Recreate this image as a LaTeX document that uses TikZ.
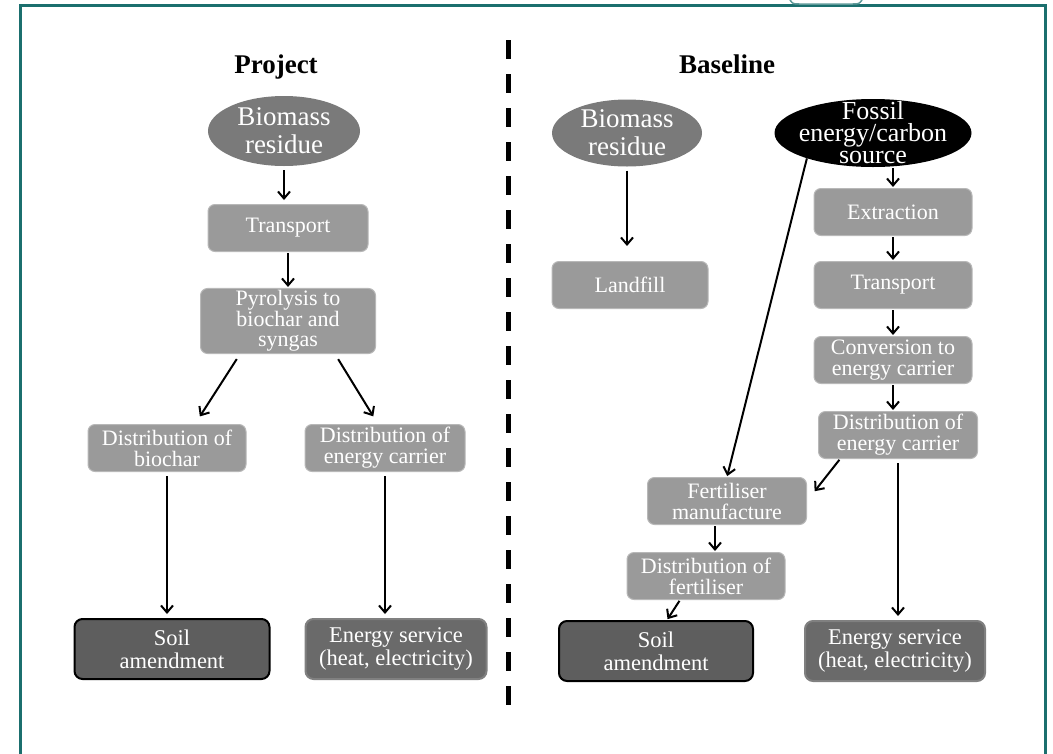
\documentclass[tikz,border=0pt]{standalone}
\usepackage{fontspec}
\setmainfont{Liberation Serif}
\usetikzlibrary{arrows.meta,shapes.geometric}
\definecolor{framecol}{HTML}{1B6F6E}
\definecolor{boxgray}{HTML}{9A9A9A}
\definecolor{ellgray}{HTML}{7A7A7A}
\definecolor{soilgray}{HTML}{5E5E5E}
\definecolor{servgray}{HTML}{6A6A6A}

\begin{document}
\begin{tikzpicture}[x=1pt,y=-1pt,
    stage/.style={rectangle, rounded corners=7pt, fill=boxgray, draw=boxgray!70!white,
        line width=1pt, text=white, align=center, inner ysep=2pt,
        font=\fontsize{22}{21}\selectfont, minimum height=47pt},
    source/.style={ellipse, fill=ellgray, inner sep=0pt},
    lbl/.style={text=white, align=center, font=\fontsize{27}{28}\selectfont},
    result/.style={rectangle, rounded corners=8pt, fill=soilgray, draw=black,
        line width=2pt, text=white, align=center,
        font=\fontsize{22.5}{23}\selectfont, minimum height=60pt},
    flow/.style={-{Straight Barb[length=7pt,width=12pt]}, line width=2pt,
        shorten <=4pt, shorten >=4pt},
    title/.style={anchor=base, font=\bfseries\fontsize{27}{27}\selectfont}]
    \useasboundingbox (0,0) rectangle (1053,753);

    % frame and divider
    \draw[framecol, line width=3pt] (20,760) -- (20,5) -- (1045,5) -- (1045,760);
    \draw[framecol!70, line width=1.5pt]
        (790,0) .. controls (793,4) .. (800,4) -- (852,4) .. controls (859,4) .. (862,0);
    \draw[line width=5pt, dash pattern=on 19pt off 15pt] (508,40) -- (508,712);

    \node[title] (projtitle) at (276,73) {Project};
    \node[title] (basetitle) at (727,73) {Baseline};

    % project
    \node[source, minimum width=152pt, minimum height=70pt,
        label={[lbl]center:{Biomass\\residue}}] (pbio) at (284,131) {};
    \node[stage, minimum width=160pt] (ptrans) at (288,228) {Transport};
    \node[stage, minimum width=175pt, minimum height=62pt,
        font=\fontsize{22}{20}\selectfont] (pyro) at (288,321)
        {Pyrolysis to\\biochar and\\syngas};
    \node[stage, minimum width=158pt] (pbiochar) at (167,448) {Distribution of\\biochar};
    \node[stage, minimum width=160pt] (pcarrier) at (385,448) {Distribution of\\energy carrier};
    \node[result, minimum width=195pt] (psoil) at (172,649) {Soil\\amendment};
    \node[result, draw=gray, fill=servgray, minimum width=181pt] (pserv) at (396,649)
        {Energy service\\(heat, electricity)};

    \draw[flow] (pbio.south) -- (pbio.south |- ptrans.north);
    \draw[flow, shorten <=1pt, shorten >=1pt] (ptrans.south) -- (ptrans.south |- pyro.north);
    \draw[flow, shorten <=6pt, shorten >=9pt] ([xshift=-48pt]pyro.south) -- ([xshift=28pt]pbiochar.north);
    \draw[flow, shorten <=6pt, shorten >=9pt] ([xshift=47pt]pyro.south) -- ([xshift=-7pt]pcarrier.north);
    \draw[flow] (pbiochar.south) -- (pbiochar.south |- psoil.north);
    \draw[flow] (pcarrier.south) -- (pcarrier.south |- pserv.north);

    % baseline
    \node[source, minimum width=150pt, minimum height=67pt,
        label={[lbl]center:{Biomass\\residue}}] (bbio) at (627,133) {};
    \node[stage, minimum width=156pt] (landfill) at (630,285) {Landfill};
    \node[source, fill=black, minimum width=197pt, minimum height=68pt,
        label={[lbl, font=\fontsize{26}{22}\selectfont]center:{Fossil\\energy/carbon\\source}}]
        (fossil) at (873,133) {};
    \node[stage, minimum width=158pt] (extract) at (893,212) {Extraction};
    \node[stage, minimum width=158pt] (btrans) at (893,285) {Transport};
    \node[stage, minimum width=158pt] (convert) at (893,360) {Conversion to\\energy carrier};
    \node[stage, minimum width=159pt] (bcarrier) at (898,435) {Distribution of\\energy carrier};
    \node[stage, minimum width=159pt] (fertman) at (727,501) {Fertiliser\\manufacture};
    \node[stage, minimum width=158pt] (fertdist) at (706,576) {Distribution of\\fertiliser};
    \node[result, minimum width=194pt] (bsoil) at (656,651) {Soil\\amendment};
    \node[result, draw=gray, fill=servgray, minimum width=180pt] (bserv) at (895,651)
        {Energy service\\(heat, electricity)};

    \draw[flow, shorten >=15pt] (bbio.south) -- (bbio.south |- landfill.north);
    \draw[flow, shorten <=1pt, shorten >=1pt] (extract.north |- fossil.south) -- (extract.north);
    \draw[flow, shorten <=1pt, shorten >=1pt] (extract.south) -- (btrans.north);
    \draw[flow, shorten <=1pt, shorten >=1pt] (btrans.south) -- (btrans.south |- convert.north);
    \draw[flow, shorten <=1pt, shorten >=1pt] (convert.south) -- (convert.south |- bcarrier.north);
    \draw[flow, shorten <=0pt, shorten >=1pt] (fossil.201) -- (fertman.north);
    \draw[flow, shorten <=1pt, shorten >=1pt] ([xshift=22pt]bcarrier.south west) -- ([xshift=7pt,yshift=9pt]fertman.east);
    \draw[flow, shorten <=1pt, shorten >=1pt] ([xshift=-12pt]fertman.south) -- ([xshift=-12pt]fertman.south |- fertdist.north);
    \draw[flow, shorten <=1pt, shorten >=1pt] ([xshift=-26pt]fertdist.south) -- ([xshift=11pt]bsoil.north);
    \draw[flow] (bcarrier.south) -- (bcarrier.south |- bserv.north);
\end{tikzpicture}
\end{document}
